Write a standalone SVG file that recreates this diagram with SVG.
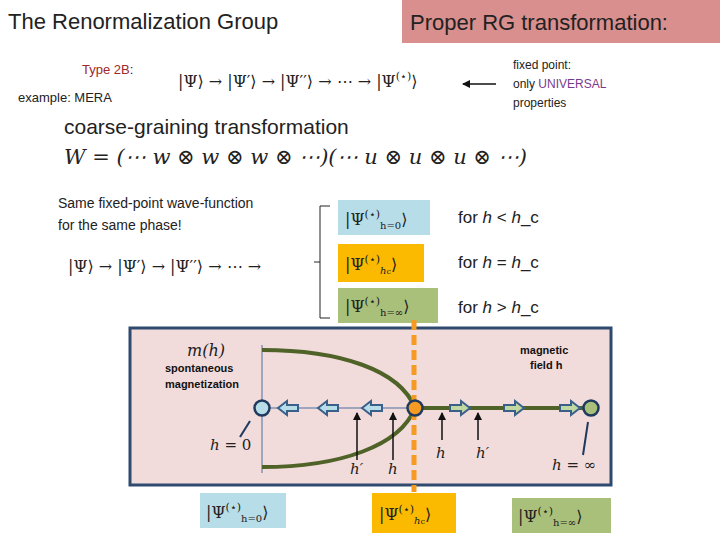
<svg xmlns="http://www.w3.org/2000/svg" width="720" height="540" viewBox="0 0 720 540">
<style>
.s{font-family:"Liberation Sans",sans-serif;fill:#222}
.m{font-family:"DejaVu Serif","Liberation Serif",serif;fill:#222}
.sm{font-family:"Liberation Sans",sans-serif;font-size:12px;fill:#222}
.b{font-family:"Liberation Sans",sans-serif;font-size:11px;font-weight:bold;fill:#111}
.ar{stroke:#111;stroke-width:1.5;marker-end:url(#ah)}
.la{fill:#b7dde8;stroke:#3a5f8a;stroke-width:2}
.ra{fill:#bfd7a0;stroke:#3a5f8a;stroke-width:2}
</style>
<defs>
<marker id="ah" markerWidth="8" markerHeight="8" refX="7" refY="4" orient="auto" markerUnits="userSpaceOnUse"><path d="M0,0L8,4L0,8z" fill="#111"/></marker>
<path id="larr" d="M0,0l9,-7v4h11v6h-11v4z"/>
</defs>
<rect width="720" height="540" fill="#fff"/>
<text class="s" x="8" y="29" font-size="22" fill="#333">The Renormalization Group</text>
<g id="header"><rect x="402" y="0" width="318" height="43" fill="#d88f8e"/>
<text class="s" x="410" y="30" font-size="22" fill="#333">Proper RG transformation:</text></g>
<text class="s" x="82" y="74" font-size="13"><tspan fill="#a0282a">Type 2B</tspan>:</text>
<text class="s" x="18" y="102" font-size="13">example: MERA</text>
<text class="m" x="178" y="87" font-size="16">|Ψ⟩ → |Ψ′⟩ → |Ψ′′⟩ → ⋯ → |Ψ<tspan dy="-7" font-size="11">(⋆)</tspan><tspan dy="7">⟩</tspan></text>
<text class="sm" x="513" y="69">fixed point:</text>
<text class="sm" x="513" y="88">only <tspan fill="#7a3a8a">UNIVERSAL</tspan></text>
<text class="sm" x="513" y="107">properties</text>
<text class="s" x="64" y="134" font-size="21" fill="#333">coarse-graining transformation</text>
<text class="m" x="64" y="164" font-size="21" font-style="italic">W = (⋯ w ⊗ w ⊗ w ⊗ ⋯)(⋯ u ⊗ u ⊗ u ⊗ ⋯)</text>
<text class="s" x="58" y="208" font-size="14">Same fixed-point wave-function</text>
<text class="s" x="58" y="230" font-size="14">for the same phase!</text>
<text class="m" x="68" y="272" font-size="16">|Ψ⟩ → |Ψ′⟩ → |Ψ′′⟩ → ⋯ →</text>
<path d="M330,206H320V318H330M320,262H314" fill="none" stroke="#222" stroke-width="1"/>
<g id="psi0"><rect x="338" y="200" width="92" height="35" fill="#b7dde8"/><text class="m" x="345" y="225" font-size="16">|Ψ<tspan dy="-7" font-size="11">(⋆)</tspan><tspan dy="11" font-size="10">h=0</tspan><tspan dy="-4">⟩</tspan></text></g>
<g id="psic"><rect x="338" y="244" width="86" height="38" fill="#fbb900"/><text class="m" x="345" y="270" font-size="16">|Ψ<tspan dy="-7" font-size="11">(⋆)</tspan><tspan dy="11" font-size="10" font-style="italic">h</tspan><tspan font-size="8">c</tspan><tspan dy="-4">⟩</tspan></text></g>
<g id="psiinf"><rect x="338" y="288" width="100" height="35" fill="#a9c07a"/><text class="m" x="345" y="312" font-size="16">|Ψ<tspan dy="-7" font-size="11">(⋆)</tspan><tspan dy="11" font-size="10">h=∞</tspan><tspan dy="-4">⟩</tspan></text></g>
<text class="s" x="458" y="223" font-size="17">for <tspan font-style="italic">h</tspan> &lt; <tspan font-style="italic">h</tspan>_c</text>
<text class="s" x="458" y="268" font-size="17">for <tspan font-style="italic">h</tspan> = <tspan font-style="italic">h</tspan>_c</text>
<text class="s" x="458" y="313" font-size="17">for <tspan font-style="italic">h</tspan> &gt; <tspan font-style="italic">h</tspan>_c</text>
<g id="panel">
<rect x="130" y="328" width="481" height="157" fill="#f2dcdb" stroke="#2f4a6f" stroke-width="3"/>
<line x1="262" y1="345" x2="262" y2="473" stroke="#4a6fa0" stroke-width="1"/>
<line x1="262" y1="408" x2="415" y2="408" stroke="#4a6fa0" stroke-width="1"/>
<path d="M262,350C340,350 400,370 415,408C400,446 340,467 262,467" fill="none" stroke="#4f6228" stroke-width="4"/>
<line x1="415" y1="408" x2="590" y2="408" stroke="#4f6228" stroke-width="4"/>
<line x1="414" y1="320" x2="414" y2="492" stroke="#f59a23" stroke-width="5" stroke-dasharray="10,5"/>
<use href="#larr" x="278" y="408" class="la"/><use href="#larr" x="318" y="408" class="la"/><use href="#larr" x="362" y="408" class="la"/>
<use href="#larr" transform="translate(470,408) scale(-1,1)" class="ra"/><use href="#larr" transform="translate(524,408) scale(-1,1)" class="ra"/><use href="#larr" transform="translate(580,408) scale(-1,1)" class="ra"/>
</g>
<g id="n0"><circle cx="262" cy="408" r="7.5" fill="#b7dde8" stroke="#1f3a5f" stroke-width="2.5"/></g>
<g id="nc"><circle cx="415" cy="408" r="7.5" fill="#f59a23" stroke="#1f3a5f" stroke-width="2.5"/></g>
<g id="ninf"><circle cx="591" cy="408" r="7.5" fill="#a9c07a" stroke="#1f3a5f" stroke-width="2.5"/></g>
<g id="connectors">
<line x1="496" y1="84" x2="463" y2="84" class="ar"/>
<line x1="357" y1="460" x2="357" y2="413" class="ar"/>
<line x1="393" y1="460" x2="393" y2="413" class="ar"/>
<line x1="442" y1="440" x2="442" y2="413" class="ar"/>
<line x1="478" y1="440" x2="478" y2="413" class="ar"/>
<line x1="250" y1="421" x2="240" y2="437" stroke="#1f3a5f" stroke-width="2"/>
<line x1="588" y1="422" x2="583" y2="455" stroke="#1f3a5f" stroke-width="2"/>
</g>
<text class="m" x="187" y="356" font-size="16" font-style="italic">m(h)</text>
<text class="b" x="165" y="372">spontaneous</text>
<text class="b" x="165" y="388">magnetization</text>
<text class="b" x="520" y="354" font-weight="normal">magnetic</text>
<text class="b" x="530" y="369" font-weight="normal">field h</text>
<text class="m" x="210" y="450" font-size="15"><tspan font-style="italic">h</tspan> = 0</text>
<text class="m" x="350" y="474" font-size="15" font-style="italic">h′</text>
<text class="m" x="388" y="474" font-size="15" font-style="italic">h</text>
<text class="m" x="436" y="458" font-size="15" font-style="italic">h</text>
<text class="m" x="476" y="458" font-size="15" font-style="italic">h′</text>
<text class="m" x="552" y="470" font-size="15"><tspan font-style="italic">h</tspan> = ∞</text>
<g id="b0"><rect x="200" y="493" width="86" height="35" fill="#b7dde8"/><text class="m" x="206" y="518" font-size="16">|Ψ<tspan dy="-7" font-size="11">(⋆)</tspan><tspan dy="11" font-size="10">h=0</tspan><tspan dy="-4">⟩</tspan></text></g>
<g id="bc"><rect x="372" y="493" width="84" height="40" fill="#fbb900"/><text class="m" x="379" y="520" font-size="16">|Ψ<tspan dy="-7" font-size="11">(⋆)</tspan><tspan dy="11" font-size="10" font-style="italic">h</tspan><tspan font-size="8">c</tspan><tspan dy="-4">⟩</tspan></text></g>
<g id="binf"><rect x="512" y="498" width="99" height="35" fill="#a9c07a"/><text class="m" x="518" y="522" font-size="16">|Ψ<tspan dy="-7" font-size="11">(⋆)</tspan><tspan dy="11" font-size="10">h=∞</tspan><tspan dy="-4">⟩</tspan></text></g>
</svg>
